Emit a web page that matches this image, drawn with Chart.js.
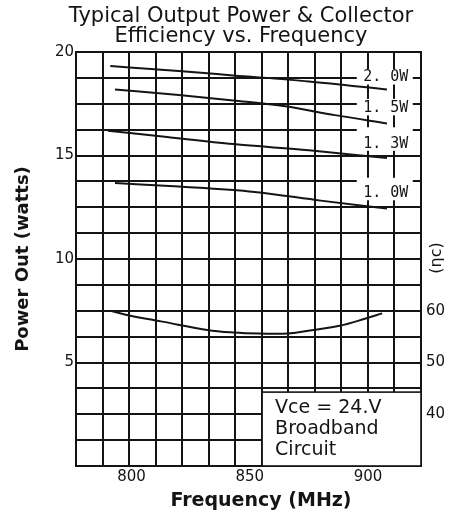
<!DOCTYPE html>
<html><head><meta charset="utf-8">
<script src="https://cdn.jsdelivr.net/npm/chart.js@4"></script>
<style>html,body{margin:0;padding:0;background:#fff;} #c{display:block;}</style>
</head><body>
<canvas id="c" width="449" height="514"></canvas>
<script>
// ---- data ----
const titleLines = ['Typical Output Power & Collector', 'Efficiency vs. Frequency'];
const xTitle = 'Frequency (MHz)';
const yTitle = 'Power Out (watts)';
const y2Title = '(ηc)';
const xTickLabels = [800, 850, 900];
const yTickLabels = [5, 10, 15, 20];
const y2TickLabels = [40, 50, 60];

const freq20 = [791, 820, 843, 875, 908];
const pout20 = [19.32, 19.08, 18.87, 18.58, 18.19];
const freq15 = [793, 820, 843, 865, 886, 908];
const pout15 = [18.19, 17.92, 17.66, 17.38, 16.95, 16.55];
const freq13 = [790, 815, 843, 875, 908];
const pout13 = [16.2, 15.89, 15.55, 15.25, 14.88];
const freq10 = [793, 820, 852, 880, 908];
const pout10 = [13.67, 13.5, 13.24, 12.82, 12.44];
const freqEff = [791, 799, 813, 832, 843, 854, 866, 877, 888, 899, 906];
const effPct = [60.0, 59.1, 57.9, 56.3, 55.8, 55.6, 55.6, 56.3, 57.1, 58.5, 59.5];

const seriesLabels = ['2. 0W', '1. 5W', '1. 3W', '1. 0W'];
const boxLines = ['Vce = 24.V', 'Broadband', 'Circuit'];

// ---- layout / style (not data) ----
const X_MIN = 776.5, X_MAX = 922.4, X_DIV = 13;
const labelAnchors = [
  {f: 907.5, w: 18.79, up: 8},
  {f: 907.5, w: 17.30, up: 9},
  {f: 907.5, w: 15.59, up: 16},
  {f: 907.5, w: 13.20, up: 15}
];
const boxAnchor = {f: 855.2, w: 3.57};
const INK = '#141414';

const mk = (xs, ys, axis, smooth) => ({
  data: xs.map((f, i) => ({x: f, y: ys[i]})),
  yAxisID: axis,
  borderColor: INK, borderWidth: 2,
  pointRadius: 0, fill: false,
  tension: smooth ? 0.4 : 0,
  cubicInterpolationMode: smooth ? 'default' : 'monotone'
});

const decor = {
  id: 'decor',
  beforeDatasetsDraw(chart) {
    const {ctx, chartArea: a, scales: {x, y}} = chart;
    ctx.save();
    ctx.font = '15px "DejaVu Sans Mono"';
    ctx.textAlign = 'center';
    ctx.textBaseline = 'middle';
    seriesLabels.forEach((t, i) => {
      const L = labelAnchors[i];
      const cx = x.getPixelForValue(L.f), cy = y.getPixelForValue(L.w);
      ctx.fillStyle = '#fff';
      ctx.fillRect(cx - 29, cy - L.up, 56, L.up + 7.5);
      ctx.fillStyle = INK;
      ctx.fillText(t, cx, cy + 0.5);
    });
    const bx = x.getPixelForValue(boxAnchor.f), by = y.getPixelForValue(boxAnchor.w);
    ctx.fillStyle = '#fff';
    ctx.fillRect(bx, by, a.right - bx, a.bottom - by);
    ctx.strokeStyle = INK; ctx.lineWidth = 1.6;
    ctx.strokeRect(bx, by, a.right - bx, a.bottom - by);
    ctx.fillStyle = INK;
    ctx.font = '19px "DejaVu Sans"';
    ctx.textAlign = 'left';
    ctx.textBaseline = 'alphabetic';
    boxLines.forEach((t, i) => ctx.fillText(t, bx + 13, by + 21 + i * 21));
    ctx.restore();
  },
  afterDraw(chart) {
    const {ctx, chartArea: a} = chart;
    ctx.save();
    ctx.fillStyle = INK;
    ctx.textAlign = 'center';
    ctx.textBaseline = 'alphabetic';
    ctx.font = '21px "DejaVu Sans"';
    titleLines.forEach((t, i) => ctx.fillText(t, 241, 22 + i * 20));
    ctx.font = 'bold 19px "DejaVu Sans"';
    ctx.fillText(xTitle, 261, 506);
    ctx.translate(a.right + 15.5, (a.top + a.bottom) / 2 - 1);
    ctx.rotate(-Math.PI / 2);
    ctx.textBaseline = 'middle';
    ctx.font = '16px "DejaVu Sans"';
    ctx.fillText(y2Title, 0, 0);
    ctx.restore();
  }
};

const tickFont = {family: 'DejaVu Sans', size: 15};

new Chart(document.getElementById('c'), {
  type: 'line',
  data: {datasets: [
    mk(freq20, pout20, 'y', false),
    mk(freq15, pout15, 'y', false),
    mk(freq13, pout13, 'y', false),
    mk(freq10, pout10, 'y', false),
    mk(freqEff, effPct, 'y2', true)
  ]},
  options: {
    responsive: false,
    animation: false,
    devicePixelRatio: 1,
    layout: {padding: {top: 52, left: 0, right: 0, bottom: 0}},
    plugins: {legend: {display: false}, tooltip: {enabled: false}, title: {display: false}},
    scales: {
      x: {
        type: 'linear', min: X_MIN, max: X_MAX,
        afterBuildTicks(s) {
          const t = [];
          for (let i = 0; i <= X_DIV; i++) t.push({value: X_MIN + (X_MAX - X_MIN) * i / X_DIV});
          xTickLabels.forEach(v => t.push({value: v}));
          t.sort((p, q) => p.value - q.value);
          s.ticks = t;
        },
        afterFit(s) { s.height = 48; },
        ticks: {autoSkip: false, maxRotation: 0, minRotation: 0, padding: 2, font: tickFont, color: INK,
          callback: v => xTickLabels.includes(v) ? String(v) : ''},
        grid: {drawTicks: false, lineWidth: 2,
          color: c => (c.tick && xTickLabels.includes(c.tick.value)) ? 'rgba(0,0,0,0)' : INK},
        border: {display: true, color: INK, width: 2},
        title: {display: false}
      },
      y: {
        type: 'linear', position: 'left', min: 0, max: 20,
        ticks: {stepSize: 1.25, maxTicksLimit: 100, autoSkip: false, padding: 2, font: tickFont, color: INK,
          callback: v => yTickLabels.includes(v) ? String(v) : ''},
        afterFit(s) { s.width = 76; },
        grid: {drawTicks: false, lineWidth: 2, color: INK},
        border: {display: true, color: INK, width: 2},
        title: {display: true, text: yTitle, color: INK,
          font: {family: 'DejaVu Sans', size: 18, weight: 'bold'}, padding: {top: 13, bottom: 0}}
      },
      y2: {
        type: 'linear', position: 'right', min: 30, max: 110,
        ticks: {stepSize: 10, autoSkip: false, padding: 5, font: tickFont, color: INK,
          callback: v => y2TickLabels.includes(v) ? String(v) : ''},
        afterFit(s) { s.width = 28; },
        grid: {display: false, drawTicks: false},
        border: {display: true, color: INK, width: 2}
      }
    }
  },
  plugins: [decor]
});
</script>
</body></html>
